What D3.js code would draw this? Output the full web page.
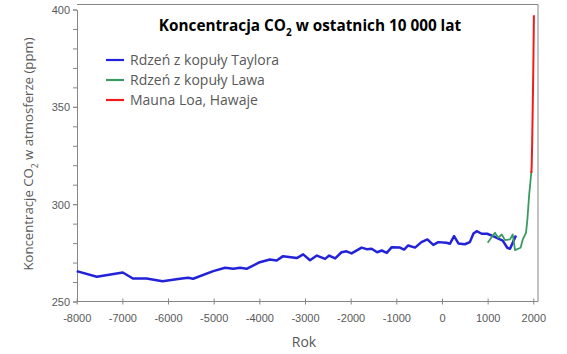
<!DOCTYPE html>
<html>
<head>
<meta charset="utf-8">
<script src="https://cdn.jsdelivr.net/npm/d3@7"></script>
<style>
  body { margin: 0; background: #fff; }
  svg { display: block; font-family: "Open Sans", sans-serif; }
  .tick text { fill: #595959; font-size: 11px; }
  .domain, .tick line { stroke: #868686; }
</style>
</head>
<body>
<div id="chart"></div>
<script>
// Data
let taylorYears = [-8000, -7560, -6990, -6770, -6470, -6120, -5740, -5560, -5450, -5010,
  -4750, -4570, -4420, -4280, -3990, -3770, -3620, -3480, -3180, -3040,
  -2890, -2740, -2560, -2470, -2340, -2200, -2090, -1980, -1760, -1650,
  -1540, -1420, -1320, -1210, -1100, -920, -830, -740, -590, -450,
  -320, -190, -80, 100, 175, 265, 360, 500, 610, 690,
  760, 870, 990, 1120, 1270, 1330, 1430, 1490, 1620];
let taylorCO2 = [265.6, 262.7, 264.9, 261.8, 261.8, 260.4, 261.7, 262.2, 261.7, 265.6,
  267.3, 266.8, 267.3, 266.8, 270.2, 271.6, 271.1, 273.3, 272.3, 274.2,
  271.2, 273.6, 271.9, 273.6, 272.1, 275.3, 275.8, 274.7, 277.7, 276.9,
  277.1, 275.3, 276.2, 275.0, 277.9, 277.7, 276.7, 278.8, 277.7, 280.5,
  281.9, 279.1, 280.5, 280.2, 279.7, 283.6, 279.8, 279.4, 280.5, 284.9,
  286.1, 284.8, 284.8, 283.6, 281.9, 281.3, 277.6, 277.1, 283.9];

let lawYears = [1000, 1160, 1230, 1310, 1380, 1490, 1550, 1600, 1720, 1770, 1840, 1870, 1910, 1935, 1958];
let lawCO2 = [280.2, 285.3, 282.7, 284.4, 281.5, 281.9, 284.4, 276.4, 277.6, 281.9, 285.3, 292.0, 305.0, 311.0, 317.0];

let maunaYears = [1958, 1965, 1970, 1975, 1980, 1985, 1990, 1995, 2000, 2005, 2010, 2013];
let maunaCO2 = [316, 320, 326, 331, 339, 346, 354, 361, 369, 380, 390, 397];

let xTicks = [-8000, -7000, -6000, -5000, -4000, -3000, -2000, -1000, 0, 1000, 2000];
let yTicks = [250, 300, 350, 400];
let yMinorTicks = d3.range(250, 401, 10);

let seriesNames = ["Rdzeń z kopuły Taylora", "Rdzeń z kopuły Lawa", "Mauna Loa, Hawaje"];
let seriesColors = ["#2222d8", "#3a9a62", "#ee1c1c"];

//Set up SVG
let svgWidth = 567;
let svgHeight = 354;

let svg = d3.select("#chart")
  .append("svg")
  .attr("width", svgWidth)
  .attr("height", svgHeight);

let x = d3.scaleLinear()
  .domain([-8000, 2000])
  .range([76.7, 533.3]);
let y = d3.scaleLinear()
  .domain([250, 400])
  .range([301.5, 9.5]);

let plotLeft = 77, plotRight = 538, plotTop = 4.5, plotBottom = 301.5;

// frame (top + right)
svg.append("path")
  .attr("d", `M${plotLeft},${plotTop}H${plotRight}V${plotBottom}`)
  .attr("fill", "none")
  .attr("stroke", "#868686");

// minor y ticks
svg.append("g")
  .attr("transform", `translate(${plotLeft},0)`)
  .call(d3.axisLeft(y).tickValues(yMinorTicks).tickSize(4).tickFormat(""))
  .call(g => g.select(".domain").remove());

// y axis
svg.append("g")
  .attr("transform", `translate(${plotLeft},0)`)
  .call(d3.axisLeft(y).tickValues(yTicks).tickSize(4).tickSizeOuter(0).tickPadding(3))
  .call(g => g.selectAll("text").attr("dy", "0.36em"));

// x axis (plain hyphen for negatives, like the original)
let xAxisG = svg.append("g")
  .attr("transform", `translate(0,${plotBottom})`)
  .call(d3.axisBottom(x).tickValues(xTicks).tickSize(3).tickSizeOuter(0).tickPadding(10).tickFormat(d => String(d)));
xAxisG.select(".domain").attr("d", `M${plotLeft},0H${plotRight}`);
xAxisG.selectAll(".tick line").attr("y1", -3);

// lines
let line = d3.line()
  .x(d => x(d[0]))
  .y(d => y(d[1]));

let series = [
  d3.zip(taylorYears, taylorCO2),
  d3.zip(lawYears, lawCO2),
  d3.zip(maunaYears, maunaCO2)
];
let widths = [2.5, 1.8, 2];

series.forEach((s, i) => {
  svg.append("path")
    .datum(s)
    .attr("fill", "none")
    .attr("stroke", seriesColors[i])
    .attr("stroke-width", widths[i])
    .attr("stroke-linejoin", "round")
    .attr("d", line);
});

// title
let title = svg.append("text")
  .attr("x", 310)
  .attr("y", 31)
  .attr("text-anchor", "middle")
  .style("font-weight", "bold")
  .style("font-size", "15.3px")
  .attr("fill", "#000");
title.append("tspan").text("Koncentracja CO");
title.append("tspan").attr("dy", 5).style("font-size", "10px").text("2");
title.append("tspan").attr("dy", -5).text(" w ostatnich 10 000 lat");

// legend
let legend = svg.append("g");
seriesNames.forEach((name, i) => {
  let ly = 60 + i * 20;
  legend.append("line")
    .attr("x1", 106).attr("x2", 124)
    .attr("y1", ly).attr("y2", ly)
    .attr("stroke", seriesColors[i])
    .attr("stroke-width", 2.2);
  legend.append("text")
    .attr("x", 130)
    .attr("y", ly + 5)
    .attr("fill", "#595959")
    .style("font-size", "14px")
    .text(name);
});

// axes labels
let yLabel = svg.append("text")
  .attr("transform", "translate(33,154) rotate(-90)")
  .attr("text-anchor", "middle")
  .attr("fill", "#595959")
  .style("font-size", "13.2px");
yLabel.append("tspan").text("Koncentracje CO");
yLabel.append("tspan").attr("dy", 5).style("font-size", "8.5px").text("2");
yLabel.append("tspan").attr("dy", -5).text(" w atmosferze (ppm)");

svg.append("text")
  .attr("x", 304)
  .attr("y", 347)
  .attr("text-anchor", "middle")
  .attr("fill", "#595959")
  .style("font-size", "14px")
  .text("Rok");
</script>
</body>
</html>
